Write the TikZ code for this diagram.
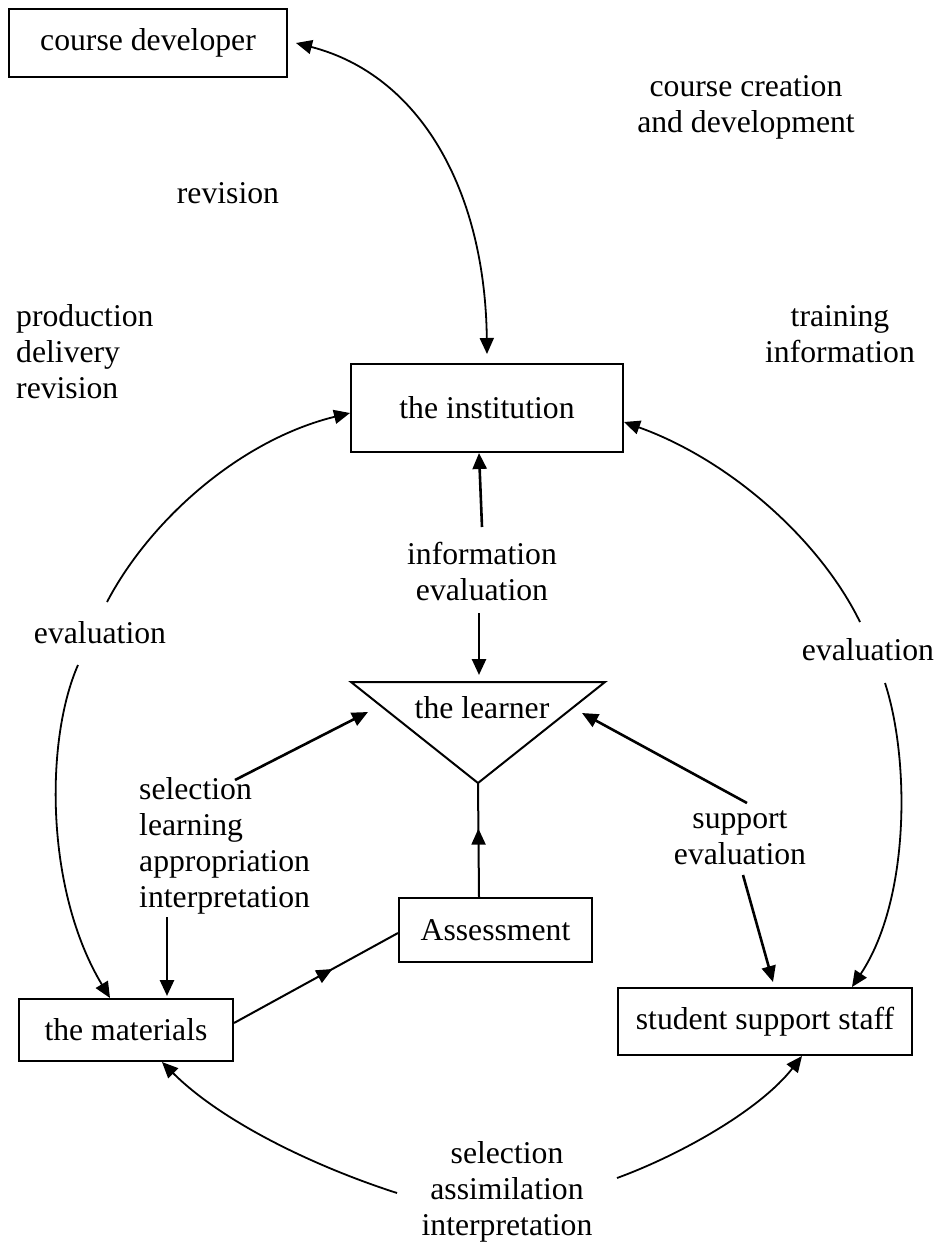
\documentclass[tikz,border=0pt]{standalone}
\usepackage{fontspec}
\setmainfont{Liberation Serif}
\usetikzlibrary{arrows.meta,decorations.markings}
\newcommand\dfont{\fontsize{31.7}{36}\selectfont}
\begin{document}
\begin{tikzpicture}[x=1pt,y=-1pt,
  tip/.style={-{Triangle[length=16pt,width=14pt]}},
  box/.style={draw,line width=2pt,inner sep=0pt,font=\dfont},
  lbl/.style={inner sep=0pt,font=\dfont,align=center},
  lbll/.style={inner sep=0pt,font=\dfont,align=left},
  curv/.style={line width=1.8pt,tip},
  sarr/.style={line width=2.6pt,tip},
  midarr/.style={line width=2pt,postaction={decorate},
    decoration={markings,mark=at position #1 with {\arrow{Triangle[length=16pt,width=14pt]}}}},
]
\useasboundingbox (0,0) rectangle (941,1243);

% boxes
\node[box,minimum width=278pt,minimum height=68pt] (dev) at (148,43) {course developer};
\node[box,minimum width=272pt,minimum height=88pt] (inst) at (487,408) {the institution};
\node[box,minimum width=193pt,minimum height=64pt] (asmt) at (495.5,930) {Assessment};
\node[box,minimum width=214pt,minimum height=62pt] (mat) at (126,1030) {the materials};
\node[box,minimum width=294pt,minimum height=67pt] (ss) at (765,1021.5) {student support staff};

% learner triangle
\coordinate (tl) at (351,682);
\coordinate (tr) at (605,682);
\coordinate (ta) at (478,783);
\draw[line width=2pt] (tl) -- (tr) -- (ta) -- cycle;
\node[lbl] (lrn) at (482,708) {the learner};

% labels
\node[lbl] (ccd) at (746,107) {course creation\\and development};
\node[lbl] (rev) at (228,193) {revision};
\node[lbll,anchor=west] (pdr) at (16,352) {production\\delivery\\revision};
\node[lbl] (ti) at (840,334) {training\\information};
\node[lbl] (ie) at (482,571) {information\\evaluation};
\node[lbl] (evl) at (100,633) {evaluation};
\node[lbl] (evr) at (868,650) {evaluation};
\node[lbll,anchor=west] (slai) at (139,846) {selection\\learning\\appropriation\\interpretation};
\node[lbl] (se) at (740,838) {support\\evaluation};
\node[lbl] (sai) at (507,1192) {selection\\assimilation\\interpretation};

% free ends
\coordinate (le1) at (107,602);
\coordinate (le2) at (78,665);
\coordinate (re1) at (860,622);
\coordinate (re2) at (885,683);
\coordinate (bl) at (397,1193);
\coordinate (br) at (617,1178);
\coordinate (i1) at (482,527);
\coordinate (i2) at (479,613);
\coordinate (lt1) at (479,675);
\coordinate (s1) at (235,780);
\coordinate (lt2) at (368,712);
\coordinate (s2) at (167,917);
\coordinate (p1) at (747,803);
\coordinate (lt3) at (582,713);
\coordinate (p2) at (743,875);

% curved connectors
\draw[line width=1.8pt,{Triangle[length=16pt,width=14pt]}-{Triangle[length=16pt,width=14pt]}]
  ([xshift=8pt]dev.east) .. controls (420,75) and (485,190) .. ([yshift=9pt]inst.north);
\draw[curv] (le1) .. controls (150,520) and (240,440) .. ([yshift=-5pt]inst.west);
\draw[curv] (le2) .. controls (45,740) and (45,890) .. ([xshift=-16pt]mat.north);
\draw[curv] (re1) .. controls (820,540) and (730,460) .. ([yshift=-14pt]inst.east);
\draw[curv] (re2) .. controls (910,760) and (910,900) .. ([xshift=87pt]ss.north);
\draw[curv] (bl) .. controls (310,1165) and (220,1120) .. ([xshift=36pt]mat.south);
\draw[curv] (br) .. controls (680,1155) and (760,1110) .. ([xshift=37pt]ss.south);

% straight connectors
\draw[sarr] (i1) -- ([xshift=-8pt]inst.south);
\draw[sarr] (i2) -- (lt1);
\draw[sarr] (s1) -- (lt2);
\draw[sarr] (s2) -- ([xshift=41pt,yshift=2pt]mat.north);
\draw[sarr] (p1) -- (lt3);
\draw[sarr] (p2) -- ([xshift=8pt,yshift=5pt]ss.north);

% mid-arrow connectors
\draw[midarr=0.6] ([yshift=7pt]mat.east) -- ([yshift=-3pt]asmt.west);
\draw[midarr=0.6] ([xshift=-16.5pt]asmt.north) -- (ta);
\end{tikzpicture}
\end{document}
